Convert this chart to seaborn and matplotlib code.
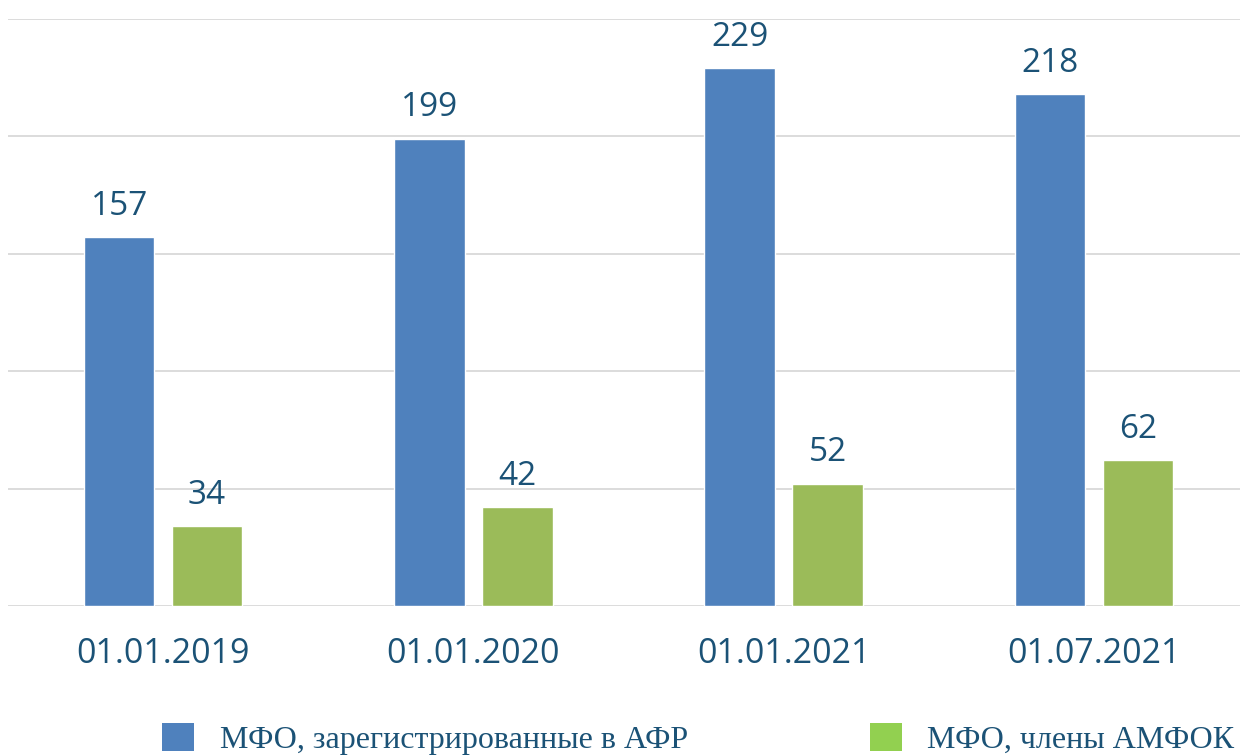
import matplotlib
matplotlib.use("Agg")
import matplotlib.pyplot as plt
from matplotlib.patches import Patch
import seaborn as sns
import pandas as pd

dates = ["01.01.2019", "01.01.2020", "01.01.2021", "01.07.2021"]
registered = [157, 199, 229, 218]
members = [34, 42, 52, 62]
series_names = ["МФО, зарегистрированные в АФР", "МФО, члены АМФОК"]

df = pd.DataFrame({
    "date": dates * 2,
    "value": registered + members,
    "series": [series_names[0]] * len(dates) + [series_names[1]] * len(dates),
})

sns.set_theme(style="white")
text_color = "#1B5276"
bar_colors = ["#4F81BD", "#9BBB59"]
legend_colors = ["#4F81BD", "#92D050"]

fig = plt.figure(figsize=(12.4, 7.55), dpi=100)
ax = fig.add_axes([8 / 1240, 1 - 606 / 755, 1241 / 1240, (606 - 19) / 755])

sns.barplot(data=df, x="date", y="value", hue="series", palette=bar_colors,
            width=0.567, gap=0.2, legend=False, ax=ax, saturation=1)

ax.set_xlim(-0.5, 3.5)
ax.set_ylim(0, 250)
ax.set_yticks([0, 50, 100, 150, 200, 250])
ax.yaxis.grid(True, color="#D9D9D9", linewidth=1.3)
ax.set_axisbelow(True)
for s in ax.spines.values():
    s.set_visible(False)
ax.set_xlabel("")
ax.set_ylabel("")
ax.set_yticklabels([])
ax.tick_params(axis="y", length=0)
ax.tick_params(axis="x", length=0, pad=22, labelsize=24.5, labelcolor=text_color)
for lbl in ax.get_xticklabels():
    lbl.set_fontfamily("Open Sans")

for cont in ax.containers:
    labels = ax.bar_label(cont, padding=10.5, fontsize=24, color=text_color,
                          fontfamily="Open Sans")
    for t in labels:
        t.set_clip_on(False)

handles = [Patch(facecolor=c, edgecolor="none") for c in legend_colors]
leg = fig.legend(handles, series_names, loc="center left",
                 bbox_to_anchor=(162 / 1240, 16 / 755), ncol=2, frameon=False,
                 borderpad=0, borderaxespad=0, handlelength=1.0, handleheight=1.0,
                 handletextpad=0.8, columnspacing=5.7,
                 prop={"family": "Liberation Serif", "size": 23})
for t in leg.get_texts():
    t.set_color(text_color)

fig.savefig("out.png", dpi=100)
